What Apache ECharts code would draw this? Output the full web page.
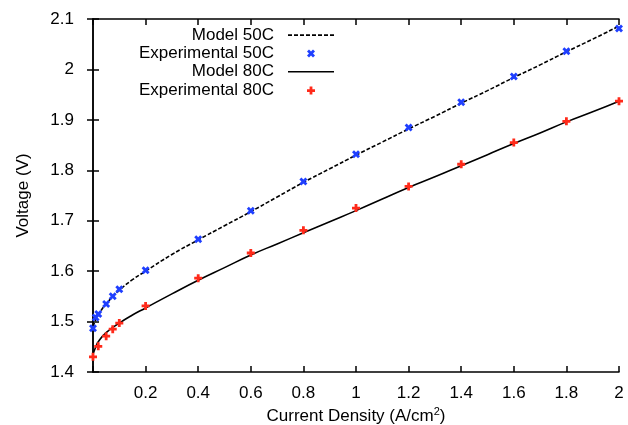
<!DOCTYPE html>
<html>
<head>
<meta charset="utf-8">
<script src="https://cdn.jsdelivr.net/npm/echarts@6/dist/echarts.min.js"></script>
<style>
  html, body { margin: 0; padding: 0; background: #fff; }
  #chart { width: 628px; height: 425px; }
</style>
</head>
<body>
<div id="chart"></div>
<script>
// experimental points
const exp50X = [0, 0.01, 0.02, 0.05, 0.075, 0.1, 0.2, 0.4, 0.6, 0.8, 1.0, 1.2, 1.4, 1.6, 1.8, 2.0];
const exp50Y = [1.487, 1.508, 1.515, 1.535, 1.55, 1.564, 1.602, 1.663, 1.72, 1.778, 1.832, 1.885, 1.935, 1.986, 2.036, 2.081];
const exp80X = [0, 0.02, 0.05, 0.075, 0.1, 0.2, 0.4, 0.6, 0.8, 1.0, 1.2, 1.4, 1.6, 1.8, 2.0];
const exp80Y = [1.43, 1.451, 1.471, 1.485, 1.497, 1.531, 1.586, 1.636, 1.681, 1.725, 1.768, 1.812, 1.855, 1.897, 1.937];

// model curves
const modelX = [0, 0.01, 0.02, 0.05, 0.1, 0.15, 0.2, 0.3, 0.4, 0.5, 0.6, 0.7, 0.8, 0.9, 1.0, 1.1, 1.2, 1.3, 1.4, 1.5, 1.6, 1.7, 1.8, 1.9, 2.0];
const model50Y = [1.49, 1.503, 1.513, 1.535, 1.562, 1.583, 1.6, 1.633, 1.662, 1.69, 1.718, 1.747, 1.776, 1.803, 1.83, 1.856, 1.882, 1.907, 1.933, 1.958, 1.984, 2.009, 2.035, 2.06, 2.086];
const model80Y = [1.435, 1.449, 1.46, 1.478, 1.497, 1.513, 1.527, 1.555, 1.582, 1.607, 1.632, 1.654, 1.676, 1.698, 1.72, 1.743, 1.766, 1.787, 1.809, 1.831, 1.853, 1.874, 1.896, 1.916, 1.937];

const names = ['Model 50C', 'Experimental 50C', 'Model 80C', 'Experimental 80C'];

function pairs(xs, ys) {
  return xs.map((x, i) => [x, ys[i]]);
}

const plusPath = 'path://M2.6,0H5.4V2.6H8V5.4H5.4V8H2.6V5.4H0V2.6H2.6Z';
const crossPath = 'path://M0,2L2,0L4,2L6,0L8,2L6,4L8,6L6,8L4,6L2,8L0,6L2,4Z';

// legend icons (46 x 14 box)
let dashIcon = 'path://M0,0M46,14';
for (let i = 0; i < 46; i += 6) {
  dashIcon += 'M' + i + ',6.2H' + Math.min(i + 4, 46) + 'V7.8H' + i + 'Z';
}
const lineIcon = 'path://M0,0M46,14M0,6.2H46V7.8H0Z';
const crossIcon = 'path://M0,0M46,14M19,5L21,3L23,5L25,3L27,5L25,7L27,9L25,11L23,9L21,11L19,9L21,7Z';
const plusIcon = 'path://M0,0M46,14M21.6,3.5H24.4V6.1H27V8.9H24.4V11.5H21.6V8.9H19V6.1H21.6Z';

const font = 'Liberation Sans, Arial, sans-serif';
const fs = 17;

let chart = echarts.init(document.getElementById('chart'));

const axisLine = { show: true, lineStyle: { color: '#000', width: 1.5 } };
const axisTick = { show: true, inside: true, length: 6, lineStyle: { color: '#000', width: 1.5 } };

chart.setOption({
  animation: false,
  backgroundColor: '#fff',
  grid: { left: 93, right: 9, top: 19, bottom: 53, outerBoundsMode: 'none', containLabel: false },
  legend: {
    orient: 'vertical',
    right: 289,
    top: 21,
    align: 'right',
    itemGap: 0,
    itemWidth: 46,
    itemHeight: 14,
    textStyle: { fontFamily: font, fontSize: fs, color: '#000', lineHeight: 18.3, padding: [0, 9, 0, 0] },
    data: [
      { name: names[0], icon: dashIcon },
      { name: names[1], icon: crossIcon },
      { name: names[2], icon: lineIcon },
      { name: names[3], icon: plusIcon }
    ]
  },
  xAxis: [
    {
      type: 'value',
      min: 0,
      max: 2,
      interval: 0.2,
      position: 'bottom',
      name: '{a|Current Density (A/cm}{s|2}{a|)}',
      nameLocation: 'middle',
      nameGap: 34,
      nameTextStyle: {
        rich: {
          a: { fontFamily: font, fontSize: fs, color: '#000' },
          s: { fontFamily: font, fontSize: 11, color: '#000', verticalAlign: 'top', padding: [0, 0, 8, 0] }
        }
      },
      axisLine: axisLine,
      axisTick: axisTick,
      splitLine: { show: false },
      axisLabel: {
        fontFamily: font, fontSize: fs, color: '#000', margin: 13,
        formatter: v => v === 0 ? '' : String(+v.toFixed(1))
      }
    },
    {
      type: 'value',
      min: 0,
      max: 2,
      interval: 0.2,
      position: 'top',
      axisLine: axisLine,
      axisTick: axisTick,
      splitLine: { show: false },
      axisLabel: { show: false }
    }
  ],
  yAxis: [
    {
      type: 'value',
      min: 1.4,
      max: 2.1,
      interval: 0.1,
      position: 'left',
      name: 'Voltage (V)',
      nameLocation: 'middle',
      nameGap: 61,
      nameTextStyle: { fontFamily: font, fontSize: fs, color: '#000' },
      axisLine: axisLine,
      axisTick: axisTick,
      splitLine: { show: false },
      axisLabel: {
        fontFamily: font, fontSize: fs, color: '#000', margin: 19,
        formatter: v => String(+v.toFixed(1))
      }
    },
    {
      type: 'value',
      min: 1.4,
      max: 2.1,
      interval: 0.1,
      position: 'right',
      axisLine: axisLine,
      axisTick: axisTick,
      splitLine: { show: false },
      axisLabel: { show: false }
    }
  ],
  series: [
    {
      name: names[0],
      type: 'line',
      symbol: 'none',
      smooth: true,
      data: pairs(modelX, model50Y),
      itemStyle: { color: '#000' },
      lineStyle: { color: '#000', width: 1.6, type: [4, 2] }
    },
    {
      name: names[1],
      type: 'scatter',
      symbol: crossPath,
      symbolSize: 8,
      data: pairs(exp50X, exp50Y),
      itemStyle: { color: '#1f3fff', opacity: 1 },
      z: 3
    },
    {
      name: names[2],
      type: 'line',
      symbol: 'none',
      smooth: true,
      data: pairs(modelX, model80Y),
      itemStyle: { color: '#000' },
      lineStyle: { color: '#000', width: 1.6 }
    },
    {
      name: names[3],
      type: 'scatter',
      symbol: plusPath,
      symbolSize: 8,
      data: pairs(exp80X, exp80Y),
      itemStyle: { color: '#ff2a1a', opacity: 1 },
      z: 3
    }
  ]
});
</script>
</body>
</html>
